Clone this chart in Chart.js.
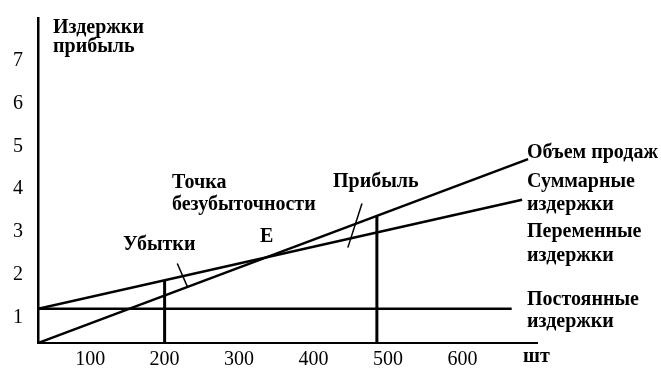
<!DOCTYPE html>
<html><head><meta charset="utf-8">
<script src="https://cdn.jsdelivr.net/npm/chart.js@4.4.1/dist/chart.umd.min.js"></script>
<style>html,body{margin:0;padding:0;background:#fff}#wrap{width:661px;height:382px}</style>
</head><body><div id="wrap"><canvas id="c" width="661" height="382"></canvas></div>
<script>
// X range / ticks (units, шт)
const xTicks = [100, 200, 300, 400, 500, 600];
const yTicks = [1, 2, 3, 4, 5, 6, 7];
// Постоянные издержки (fixed costs)
const fixedX = [30, 666];
const fixedY = [1.2, 1.2];
// Суммарные издержки (total costs)
const totalX = [30, 680];
const totalY = [1.2, 3.75];
// Объем продаж (sales)
const salesX = [30, 688];
const salesY = [0.4, 4.7];
// Vertical markers
const loss200X = [200, 200];
const loss200Y = [0.4, 1.87];
const profit485X = [485, 485];
const profit485Y = [0.4, 3.37];
// Pointer strokes
const lossPtrX = [217, 231];
const lossPtrY = [2.26, 1.70];
const profPtrX = [465, 446];
const profPtrY = [3.66, 2.63];

const pts = (xs, ys) => xs.map((x, i) => ({x, y: ys[i]}));
const ds = (xs, ys, w) => ({data: pts(xs, ys), showLine: true, borderColor: '#000', borderWidth: w, pointRadius: 0, fill: false, tension: 0});

const labels = [
  ['Издержки', 53, 28], ['прибыль', 53, 47],
  ['Точка', 172, 183], ['безубыточности', 172, 205],
  ['Убытки', 123, 245], ['E', 260, 237], ['Прибыль', 333, 182],
  ['Объем продаж', 527, 153],
  ['Суммарные', 527, 182], ['издержки', 527, 205],
  ['Переменные', 527, 232], ['издержки', 527, 256],
  ['Постоянные', 527, 300], ['издержки', 527, 322]
];

const textPlugin = {
  id: 'texts',
  afterDraw(chart) {
    const ctx = chart.ctx;
    ctx.save();
    ctx.fillStyle = '#000';
    ctx.textBaseline = 'middle';
    ctx.textAlign = 'left';
    ctx.font = 'bold 20px "Liberation Serif"';
    labels.forEach(([t, x, y]) => ctx.fillText(t, x, y));
    ctx.fillText('шт', 523, 357);
    ctx.restore();
  }
};

new Chart(document.getElementById('c'), {
  type: 'scatter',
  data: {datasets: [
    ds(fixedX, fixedY, 2.5),
    ds(totalX, totalY, 2.5),
    ds(salesX, salesY, 2.5),
    ds(loss200X, loss200Y, 3),
    ds(profit485X, profit485Y, 3),
    ds(lossPtrX, lossPtrY, 1.5),
    ds(profPtrX, profPtrY, 1.5)
  ]},
  options: {
    responsive: false, animation: false,
    layout: {padding: {top: 18, right: 124, bottom: 0, left: 0}},
    plugins: {legend: {display: false}, tooltip: {enabled: false}},
    scales: {
      x: {
        type: 'linear', min: 30, max: 700,
        afterFit: s => { s.height = 39; s.paddingLeft = 0; s.paddingRight = 0; },
        afterBuildTicks: s => { s.ticks = xTicks.map(v => ({value: v})); },
        grid: {display: false, drawTicks: false},
        border: {color: '#000', width: 2},
        ticks: {color: '#000', font: {family: 'Liberation Serif', size: 20}, padding: 5, maxRotation: 0, autoSkip: false}
      },
      y: {
        type: 'linear', min: 0.4, max: 8,
        afterFit: s => { s.width = 38; s.paddingTop = 0; s.paddingBottom = 0; },
        afterBuildTicks: s => { s.ticks = yTicks.map(v => ({value: v})); },
        grid: {display: false, drawTicks: false},
        border: {color: '#000', width: 2.5},
        ticks: {color: '#000', font: {family: 'Liberation Serif', size: 20}, padding: 15, autoSkip: false}
      }
    }
  },
  plugins: [textPlugin]
});
</script></body></html>
